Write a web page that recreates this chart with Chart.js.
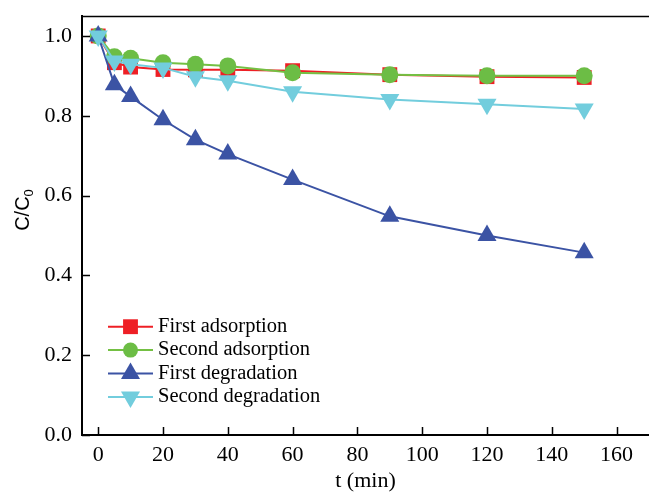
<!DOCTYPE html>
<html>
<head>
<meta charset="utf-8">
<script src="https://cdn.jsdelivr.net/npm/chart.js@4"></script>
<style>
  html, body { margin: 0; padding: 0; background: #fff; overflow: hidden; width: 649px; height: 492px; }
  canvas { display: block; }
</style>
</head>
<body>
<canvas id="c" width="660" height="492"></canvas>
<script>
// Sampling times (min)
const times = [0, 5, 10, 20, 30, 40, 60, 90, 120, 150];

// C/C0 for each run
const firstAdsorption   = [1.000, 0.933, 0.922, 0.916, 0.915, 0.915, 0.913, 0.903, 0.898, 0.896];
const secondAdsorption  = [1.000, 0.948, 0.944, 0.933, 0.929, 0.925, 0.908, 0.903, 0.900, 0.900];
const firstDegradation  = [1.000, 0.878, 0.848, 0.790, 0.740, 0.704, 0.640, 0.548, 0.500, 0.457];
const secondDegradation = [1.000, 0.937, 0.929, 0.920, 0.898, 0.888, 0.860, 0.841, 0.829, 0.817];

const seriesNames = ['First adsorption', 'Second adsorption', 'First degradation', 'Second degradation'];

// Axis ticks
const xTicks = [0, 20, 40, 60, 80, 100, 120, 140, 160];
const yTicks = [0.0, 0.2, 0.4, 0.6, 0.8, 1.0];

const SERIF = "'Liberation Serif', 'Times New Roman', serif";
const SANS = "'Liberation Sans', Arial, sans-serif";

function toPoints(values) {
  return times.map((t, i) => ({ x: t, y: values[i] }));
}

const datasets = [
  { label: seriesNames[0], data: toPoints(firstAdsorption), borderColor: '#ee1f25', backgroundColor: '#ee1f25',
    pointStyle: 'rect', pointRadius: 10.5, pointRotation: 0, order: 4 },
  { label: seriesNames[1], data: toPoints(secondAdsorption), borderColor: '#74c043', backgroundColor: '#6cbd45',
    pointStyle: 'circle', pointRadius: 8.5, pointRotation: 0, order: 3 },
  { label: seriesNames[2], data: toPoints(firstDegradation), borderColor: '#3b53a4', backgroundColor: '#3b53a4',
    pointStyle: 'triangle', pointRadius: 11, pointRotation: 0, order: 2 },
  { label: seriesNames[3], data: toPoints(secondDegradation), borderColor: '#72cddd', backgroundColor: '#72cddd',
    pointStyle: 'triangle', pointRadius: 11, pointRotation: 180, order: 1 }
].map(d => Object.assign({
  borderWidth: 2,
  pointBackgroundColor: d.backgroundColor,
  pointBorderWidth: 0,
  pointHoverRadius: d.pointRadius,
  tension: 0,
  fill: false
}, d));

// Inward tick marks, top frame line, y title with subscript and the inset legend
const decorations = {
  id: 'decorations',
  afterDraw(chart) {
    const ctx = chart.ctx;
    const area = chart.chartArea;
    const xs = chart.scales.x, ys = chart.scales.y;
    ctx.save();
    ctx.strokeStyle = '#000';
    ctx.lineWidth = 1.5;
    ctx.beginPath();
    xTicks.forEach(v => {
      const px = Math.round(xs.getPixelForValue(v)) + 0.5;
      ctx.moveTo(px, area.bottom);
      ctx.lineTo(px, area.bottom - 8);
    });
    yTicks.forEach(v => {
      const py = Math.round(ys.getPixelForValue(v)) + 0.5;
      ctx.moveTo(area.left, py);
      ctx.lineTo(area.left + 8, py);
    });
    ctx.moveTo(area.left, area.top + 0.5);
    ctx.lineTo(area.right, area.top + 0.5);
    ctx.stroke();

    // y-axis title: C/C0
    ctx.fillStyle = '#000';
    ctx.translate(23, 210);
    ctx.rotate(-Math.PI / 2);
    ctx.font = '20px ' + SANS;
    const main = 'C/C';
    const wMain = ctx.measureText(main).width;
    ctx.font = '13px ' + SANS;
    const wSub = ctx.measureText('0').width;
    const start = -(wMain + wSub) / 2;
    ctx.textBaseline = 'middle';
    ctx.textAlign = 'left';
    ctx.font = '20px ' + SANS;
    ctx.fillText(main, start, 0);
    ctx.font = '13px ' + SANS;
    ctx.fillText('0', start + wMain, 6);
    ctx.restore();

    // Legend
    ctx.save();
    chart.data.datasets.forEach((ds, i) => {
      const cy = 326.7 + i * 23.4;
      ctx.strokeStyle = ds.borderColor;
      ctx.lineWidth = 2;
      ctx.beginPath();
      ctx.moveTo(108, cy);
      ctx.lineTo(153, cy);
      ctx.stroke();
      ctx.fillStyle = ds.backgroundColor;
      Chart.helpers.drawPoint(ctx, {
        pointStyle: ds.pointStyle,
        radius: ds.pointStyle === 'circle' ? 7.5 : ds.pointRadius,
        rotation: ds.pointRotation,
        borderWidth: 0
      }, 130.5, cy);
      ctx.fillStyle = '#000';
      ctx.font = '20.5px ' + SERIF;
      ctx.textBaseline = 'alphabetic';
      ctx.textAlign = 'left';
      ctx.fillText(ds.label, 158, cy + 5);
    });
    ctx.restore();
  }
};

new Chart(document.getElementById('c'), {
  type: 'line',
  data: { datasets },
  plugins: [decorations],
  options: {
    responsive: false,
    animation: false,
    devicePixelRatio: 1,
    layout: { padding: { top: 16, right: 7.7, left: 0, bottom: 0 } },
    plugins: {
      legend: { display: false },
      tooltip: { enabled: false },
      title: { display: false }
    },
    scales: {
      x: {
        type: 'linear',
        min: -5,
        max: 170,
        afterFit(scale) { scale.height = 57; scale.paddingLeft = 0; scale.paddingRight = 0; },
        afterBuildTicks(scale) { scale.ticks = xTicks.map(v => ({ value: v })); },
        grid: { display: false, drawTicks: false },
        border: { display: true, color: '#000', width: 2 },
        ticks: {
          color: '#000',
          font: { family: SERIF, size: 22 },
          padding: 7,
          maxRotation: 0,
          callback: v => String(v)
        },
        title: {
          display: true,
          text: 't (min)',
          color: '#000',
          font: { family: SERIF, size: 22, lineHeight: 1.0 },
          padding: { top: 0, bottom: 0 }
        }
      },
      y: {
        type: 'linear',
        min: 0,
        max: 1.05,
        afterFit(scale) { scale.width = 82; scale.paddingTop = 0; scale.paddingBottom = 0; },
        afterBuildTicks(scale) { scale.ticks = yTicks.map(v => ({ value: v })); },
        grid: { display: false, drawTicks: false },
        border: { display: true, color: '#000', width: 2 },
        ticks: {
          color: '#000',
          font: { family: SERIF, size: 22 },
          padding: 10,
          callback: v => Number(v).toFixed(1)
        }
      }
    }
  }
});
</script>
</body>
</html>
